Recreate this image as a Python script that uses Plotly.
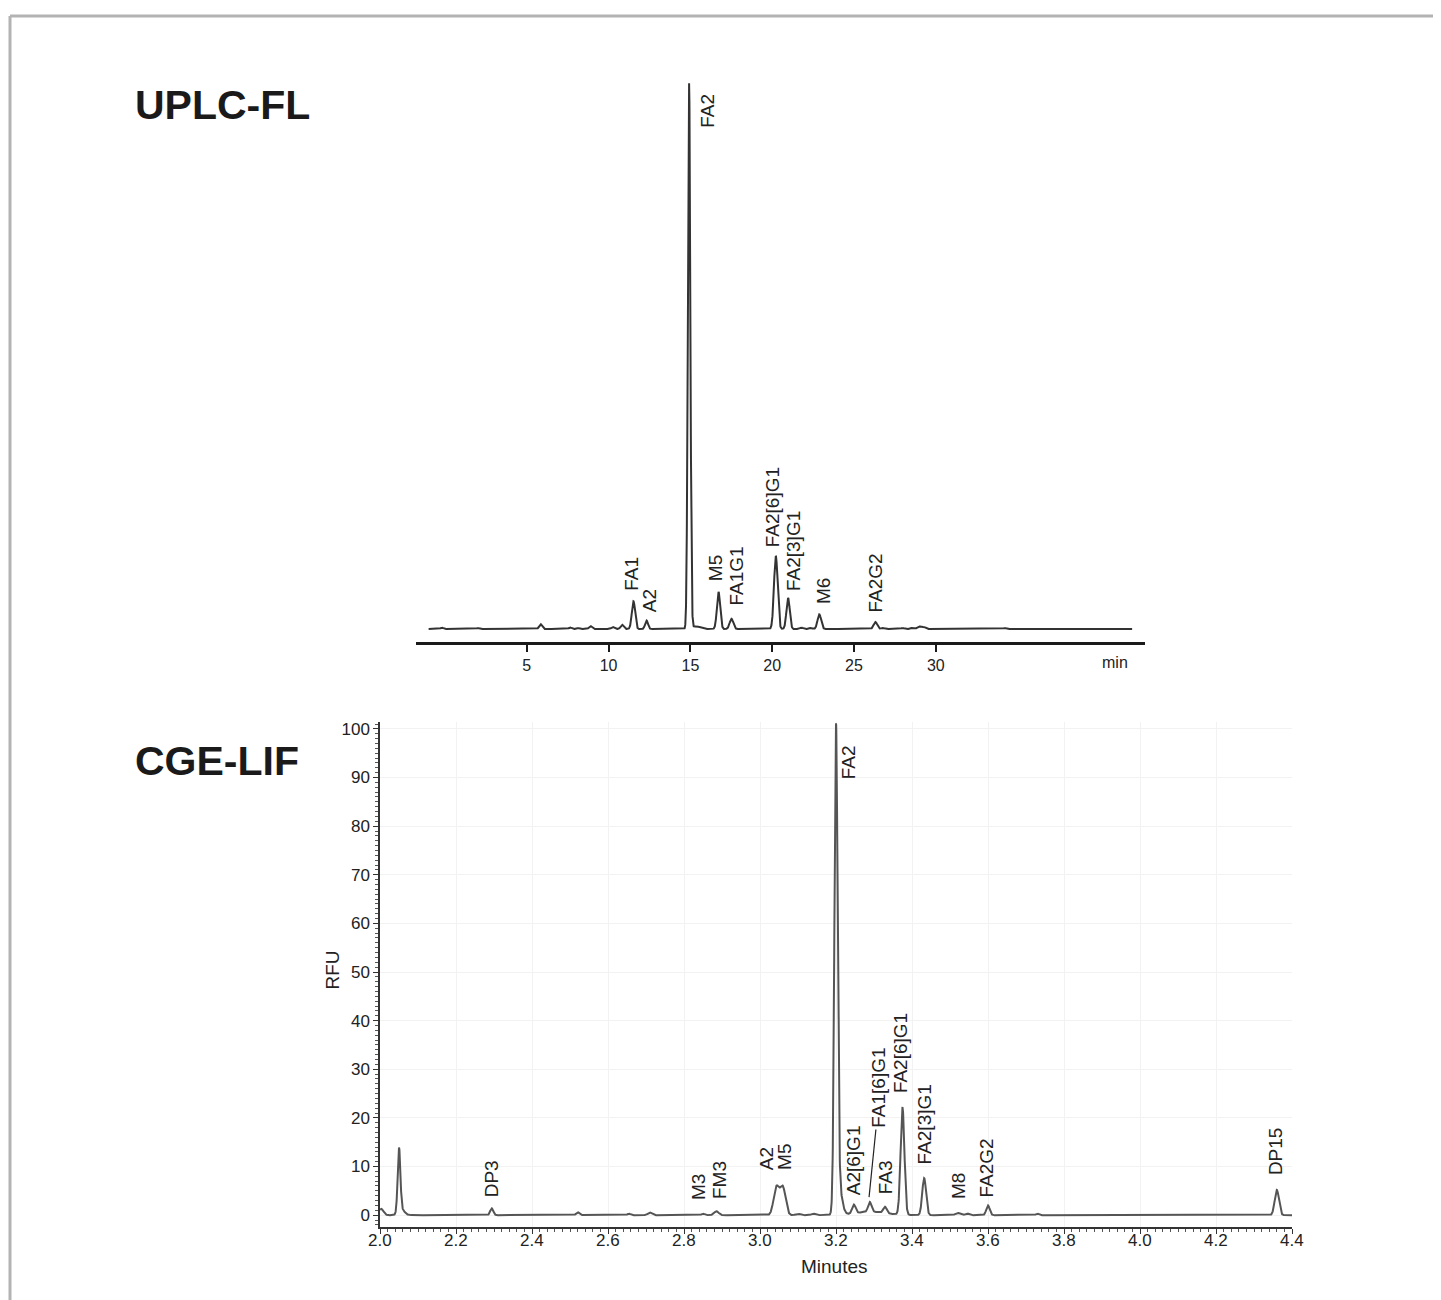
import numpy as np
import plotly.graph_objects as go

# ---------------- DATA ----------------
# UPLC-FL chromatogram: peak retention times (min), heights (% of FA2), widths (sigma, min)
uplc_rt = [-0.19, 2.03, 5.84, 7.65, 8.14, 8.89, 10.25, 10.82, 11.52, 12.32, 14.92, 15.35, 16.72,
           17.51, 20.22, 20.97, 21.78, 22.36, 22.88, 26.31, 26.77, 27.98, 28.56, 28.99, 29.28, 34.24, 35.05]
uplc_height = [0.25, 0.2, 0.9, 0.3, 0.2, 0.55, 0.37, 0.8, 5.1, 1.55, 100.0, 0.5, 6.8,
               1.9, 13.4, 5.7, 0.25, 0.2, 2.7, 1.3, 0.2, 0.2, 0.2, 0.5, 0.37, 0.2, 0.12]
uplc_sigma = [0.08, 0.08, 0.09, 0.08, 0.08, 0.09, 0.09, 0.09, 0.1, 0.09, 0.075, 0.25, 0.1,
              0.11, 0.11, 0.1, 0.1, 0.1, 0.11, 0.11, 0.1, 0.1, 0.1, 0.12, 0.1, 0.08, 0.08]
uplc_range = [-1.0, 42.0]

uplc_labels = ["FA1", "A2", "FA2", "M5", "FA1G1", "FA2[6]G1", "FA2[3]G1", "M6", "FA2G2"]
uplc_label_x = [11.35, 12.55, 16.05, 16.5, 17.85, 19.99, 21.27, 23.1, 26.34]
uplc_label_y = [6.6, 2.7, 91.5, 8.4, 3.85, 14.65, 6.6, 4.2, 2.75]
uplc_ticks = [5, 10, 15, 20, 25, 30]

# CGE-LIF electropherogram: migration times (min), heights (RFU), widths (sigma, min)
cge_t = [2.003, 2.05, 2.056, 2.294, 2.52, 2.655, 2.71, 2.85, 2.885, 3.043, 3.060, 3.10, 3.14,
         3.2, 3.207, 3.29, 3.247, 3.289, 3.329, 3.375, 3.432, 3.52, 3.545, 3.60, 3.73, 3.89, 4.36]
cge_height = [1.3, 13.0, 1.2, 1.4, 0.6, 0.3, 0.55, 0.3, 0.8, 5.7, 5.7, 0.3, 0.3,
              97.0, 6.0, 0.7, 1.8, 2.0, 1.3, 22.0, 7.6, 0.45, 0.35, 2.0, 0.3, 0.15, 5.2]
cge_sigma = [0.006, 0.0035, 0.008, 0.004, 0.004, 0.004, 0.005, 0.004, 0.006, 0.0072, 0.0072, 0.006, 0.005,
             0.0042, 0.008, 0.04, 0.0045, 0.0045, 0.0045, 0.005, 0.005, 0.006, 0.005, 0.0045, 0.004, 0.003, 0.0055]
cge_range = [2.0, 4.4]

cge_labels = ["DP3", "M3", "FM3", "A2", "M5", "FA2", "A2[6]G1", "FA1[6]G1", "FA3",
              "FA2[6]G1", "FA2[3]G1", "M8", "FA2G2", "DP15"]
cge_label_x = [2.294, 2.837, 2.892, 3.018, 3.066, 3.235, 3.245, 3.311, 3.329,
               3.370, 3.434, 3.521, 3.597, 4.355]
cge_label_y = [3.3, 2.7, 2.9, 8.9, 8.9, 89.3, 3.7, 17.6, 3.9,
               24.6, 10.0, 2.9, 3.3, 7.8]
cge_xticks = [2.0, 2.2, 2.4, 2.6, 2.8, 3.0, 3.2, 3.4, 3.6, 3.8, 4.0, 4.2, 4.4]
cge_yticks = [0, 10, 20, 30, 40, 50, 60, 70, 80, 90, 100]

# ---------------- BUILD ----------------
def build(t, rt, h, s):
    y = np.zeros_like(t)
    for r, a, w in zip(rt, h, s):
        y += a * np.exp(-0.5 * ((t - r) / w) ** 2)
    return y

t1 = np.arange(uplc_range[0], uplc_range[1] + 1e-9, 0.005)
y1 = build(t1, uplc_rt, uplc_height, uplc_sigma)
t2 = np.arange(cge_range[0], cge_range[1] + 1e-9, 0.0004)
y2 = build(t2, cge_t, cge_height, cge_sigma)

W, H = 1441, 1300
OFF = 8  # page body margin

def px(x):
    return (x - OFF) / W

def py(y):
    return 1 - (y - OFF) / H

FONT = "Liberation Sans, Arial, sans-serif"
TXT = "#222222"

fig = go.Figure()
fig.add_trace(go.Scatter(x=t1, y=y1, mode="lines", line=dict(color="#333333", width=2),
                         xaxis="x", yaxis="y", hoverinfo="skip", showlegend=False))
fig.add_trace(go.Scatter(x=t2, y=y2, mode="lines", line=dict(color="#555555", width=2),
                         xaxis="x2", yaxis="y2", hoverinfo="skip", showlegend=False))

# top axes: 0 min at px 445, 16.36 px/min; baseline at 628 px, 100% at 82 px
top_x0, top_x1 = 416, 1145
ppm = 16.36
x_lo = (top_x0 - 445) / ppm
x_hi = (top_x1 - 445) / ppm
top_y0, top_y1 = 641, 78
ppu = (628 - 82) / 100.0
y_lo = (628 - top_y0) / ppu
y_hi = (628 - top_y1) / ppu

# bottom axes: 2.0 at 380 px, 380 px/min; 0 RFU at 1215, 4.87 px/RFU
bx0, bx1 = 380, 1292
by0, by1 = 1227, 721
b_lo = (1215 - by0) / 4.87
b_hi = (1215 - by1) / 4.87

annotations = []
for lab, x, y in zip(uplc_labels, uplc_label_x, uplc_label_y):
    annotations.append(dict(x=x, y=y, xref="x", yref="y", text=lab, showarrow=False,
                            textangle=-90, xanchor="center", yanchor="bottom",
                            font=dict(family=FONT, size=19, color=TXT)))
for lab, x, y in zip(cge_labels, cge_label_x, cge_label_y):
    annotations.append(dict(x=x, y=y, xref="x2", yref="y2", text=lab, showarrow=False,
                            textangle=-90, xanchor="center", yanchor="bottom",
                            font=dict(family=FONT, size=19, color=TXT)))
for v in cge_xticks:
    annotations.append(dict(x=v, y=py(1240), xref="x2", yref="paper", text=f"{v:.1f}", showarrow=False,
                            xanchor="center", yanchor="middle",
                            font=dict(family=FONT, size=17, color=TXT)))

annotations += [
    dict(x=40.95, y=py(662), xref="x", yref="paper", text="min", showarrow=False,
         xanchor="center", yanchor="middle", font=dict(family=FONT, size=16, color=TXT)),
    dict(x=px(133), y=py(103), xref="paper", yref="paper", text="<b>UPLC-FL</b>", showarrow=False,
         xanchor="left", yanchor="middle", font=dict(family=FONT, size=41, color="#1a1a1a")),
    dict(x=px(133), y=py(760), xref="paper", yref="paper", text="<b>CGE-LIF</b>", showarrow=False,
         xanchor="left", yanchor="middle", font=dict(family=FONT, size=41, color="#1a1a1a")),
    dict(x=px(333), y=py(970), xref="paper", yref="paper", text="RFU", showarrow=False,
         textangle=-90, xanchor="center", yanchor="middle", font=dict(family=FONT, size=19, color=TXT)),
    dict(x=px(834), y=py(1266), xref="paper", yref="paper", text="Minutes", showarrow=False,
         xanchor="center", yanchor="middle", font=dict(family=FONT, size=19, color=TXT)),
]

shapes = [
    dict(type="line", xref="paper", yref="paper", x0=px(10), y0=py(14), x1=px(W + 20), y1=py(14),
         line=dict(color="#b3b3b3", width=3)),
    dict(type="line", xref="paper", yref="paper", x0=px(10), y0=py(14), x1=px(10), y1=py(H + 20),
         line=dict(color="#b3b3b3", width=3)),
    dict(type="line", xref="x2", yref="y2", x0=3.287, y0=3.7, x1=3.305, y1=17.6,
         line=dict(color="#222222", width=1.2)),
]

fig.update_layout(
    width=W, height=H,
    margin=dict(l=0, r=0, t=0, b=0),
    paper_bgcolor="white", plot_bgcolor="white",
    showlegend=False,
    xaxis=dict(domain=[px(top_x0), px(top_x1)], range=[x_lo, x_hi], showgrid=False, zeroline=False,
               showline=True, linecolor="#1a1a1a", linewidth=2.5, ticks="outside", ticklen=7,
               tickwidth=1.5, tickcolor="#1a1a1a", tickvals=uplc_ticks,
               tickfont=dict(family=FONT, size=16, color=TXT), anchor="y"),
    yaxis=dict(domain=[py(top_y0), py(top_y1)], range=[y_lo, y_hi], visible=False, anchor="x"),
    xaxis2=dict(domain=[px(bx0), px(bx1)], range=list(cge_range), showgrid=True, gridcolor="#f2f2f2",
                gridwidth=1, zeroline=False, showline=True, linecolor="#333333", linewidth=1.5,
                ticks="outside", ticklen=5, tickcolor="#333333", tickvals=cge_xticks,
                showticklabels=False,
                minor=dict(dtick=0.02, tick0=2.0, ticks="outside", ticklen=3, tickcolor="#555555",
                           showgrid=False),
                anchor="y2"),
    yaxis2=dict(domain=[py(by0), py(by1)], range=[b_lo, b_hi], showgrid=True, gridcolor="#f2f2f2",
                gridwidth=1, zeroline=False, showline=True, linecolor="#333333", linewidth=1.5,
                ticks="outside", ticklen=5, tickcolor="#333333", tickvals=cge_yticks,
                minor=dict(dtick=1, tick0=0, ticks="outside", ticklen=3, tickcolor="#555555",
                           showgrid=False),
                tickfont=dict(family=FONT, size=17, color=TXT), anchor="x2"),
    annotations=annotations,
    shapes=shapes,
)

fig.write_html("out.html")
